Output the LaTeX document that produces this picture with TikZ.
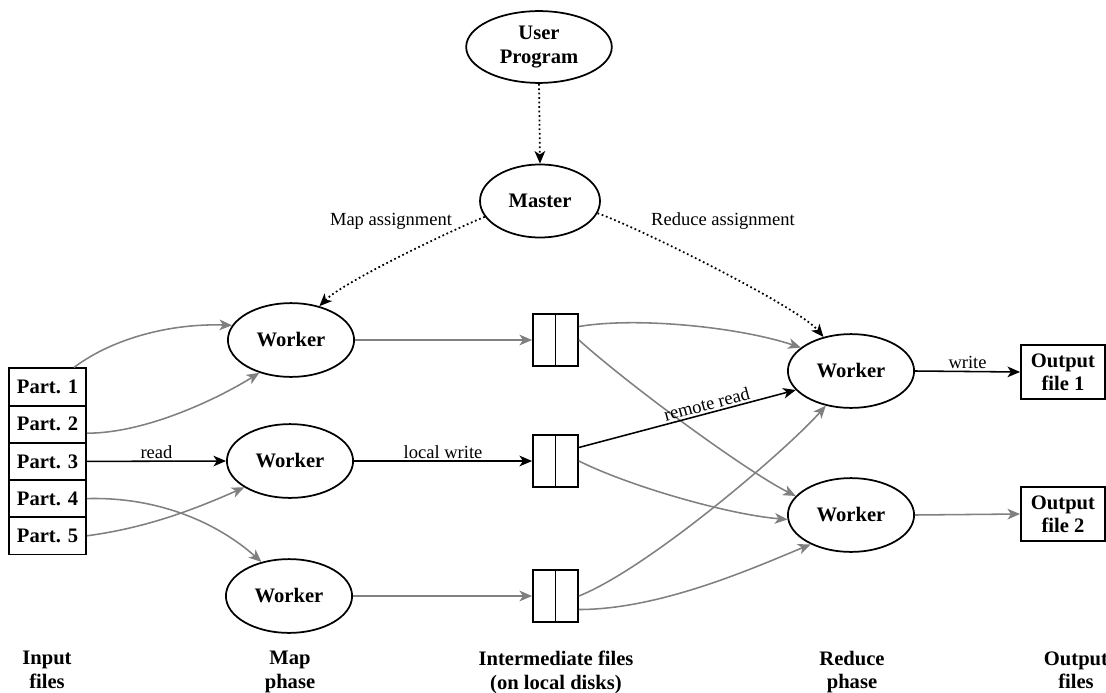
\documentclass[tikz,border=0pt]{standalone}
\usepackage{fontspec}
\setmainfont{Liberation Serif}[Scale=1.06]
\usetikzlibrary{shapes.geometric,arrows.meta,calc}
\begin{document}
\begin{tikzpicture}[x=0.515pt,y=-0.515pt,
  ell/.style={ellipse, draw, line width=0.9pt, inner sep=0pt, font=\bfseries, align=center},
  wrk/.style={ell, minimum width=65pt, minimum height=38pt},
  part/.style={draw, line width=0.9pt, minimum width=39.7pt, minimum height=19.2pt, inner sep=0pt, font=\bfseries},
  ifile/.style={draw, line width=0.9pt, minimum width=23.2pt, minimum height=26.8pt, inner sep=0pt},
  ofile/.style={draw, line width=0.9pt, minimum width=43.3pt, minimum height=27.8pt, inner sep=0pt, font=\bfseries, align=center},
  phase/.style={font=\bfseries, align=center, anchor=north, inner sep=0pt},
  lbl/.style={font=\small, inner sep=1pt},
  tip/.style={-{Stealth[length=6.5pt,width=5.5pt,inset=1.8pt]}},
  garrow/.style={tip, line width=0.8pt, draw=gray, color=gray},
  barrow/.style={tip, line width=0.8pt, draw=black},
  darrow/.style={tip, line width=0.9pt, dash pattern=on 0.9pt off 1.4pt}
]
\useasboundingbox (0,0) rectangle (1106,693);

% top
\node[ell, minimum width=75pt, minimum height=37pt] (up) at (539,47) {User\\Program};
\node[ell, minimum width=61.8pt, minimum height=37.6pt] (m) at (540,201) {Master};

% input parts
\node[part] (p1) at (47.5,387) {Part. 1};
\node[part] (p2) at (47.5,424.2) {Part. 2};
\node[part] (p3) at (47.5,461.4) {Part. 3};
\node[part] (p4) at (47.5,498.6) {Part. 4};
\node[part] (p5) at (47.5,535.8) {Part. 5};

% map workers
\node[wrk] (w1) at (291,340) {Worker};
\node[wrk] (w2) at (290,461) {Worker};
\node[wrk] (w3) at (289,596) {Worker};

% intermediate files
\node[ifile] (f1) at (555.5,340) {};
\node[ifile] (f2) at (555.5,461) {};
\node[ifile] (f3) at (555.5,596) {};
\foreach \f in {f1,f2,f3} \draw[line width=0.9pt] (\f.north) -- (\f.south);

% reduce workers
\node[wrk] (r1) at (851,371) {Worker};
\node[wrk] (r2) at (851,515) {Worker};

% outputs
\node[ofile] (o1) at (1063,372) {Output\\file 1};
\node[ofile] (o2) at (1063,514) {Output\\file 2};

% phase labels
\node[phase] (l1) at (47,651) {Input\\files};
\node[phase] (l2) at (290,651) {Map\\phase};
\node[phase] (l3) at (556,651) {Intermediate files\\(on local disks)};
\node[phase] (l4) at (852,651) {Reduce\\phase};
\node[phase] (l5) at (1076,651) {Output\\files};

% control arrows
\draw[darrow] (up.south) -- (m.north);
\draw[darrow] (m.196) .. controls +(-30,12) and +(25,-25) .. (w1.50);
\draw[darrow] (m.-12) .. controls +(40,14) and +(-25,-30) .. (r1.129);
\node[lbl] (lma) at (391,221) {Map assignment};
\node[lbl] (lra) at (723,221) {Reduce assignment};

% inputs to map workers
\draw[garrow] ($(p1.north east)+(-13,0)$) .. controls +(40,-30) and +(-60,-2) .. (w1.166);
\draw[garrow] ($(p2.east)+(0,9)$) .. controls +(60,0) and +(-40,25) .. (w1.226);
\draw[barrow] (p3.east) -- node[lbl, above] {read} (w2.west);
\draw[garrow] (p4.east) .. controls +(70,-2) and +(-45,-40) .. (w3.129);
\draw[garrow] (p5.east) .. controls +(60,-8) and +(-50,22) .. (w2.210);

% map workers to files
\draw[garrow] (w1.east) -- (f1.west);
\draw[barrow] (w2.east) -- node[lbl, above] {local write} (f2.west);
\draw[garrow] (w3.east) -- (f3.west);

% files to reduce workers
\draw[garrow] (f1.30) .. controls +(60,-10) and +(-60,-20) .. (r1.155);
\draw[garrow] (f1.east) .. controls +(50,45) and +(-50,-25) .. (r2.161);
\draw[barrow] (f2.30) -- node[lbl, above, sloped, pos=0.6] {remote read} (r1.199);
\draw[garrow] (f2.east) .. controls +(50,25) and +(-60,-5) .. (r2.184);
\draw[garrow] (f3.east) .. controls +(70,-28) and +(-40,45) .. (r1.234);
\draw[garrow] (f3.-30) .. controls +(80,0) and +(-60,25) .. (r2.216);

% outputs
\draw[barrow] (r1.east) -- node[lbl, above] {write} (o1.west);
\draw[garrow] (r2.east) -- (o2.west);
\end{tikzpicture}
\end{document}
